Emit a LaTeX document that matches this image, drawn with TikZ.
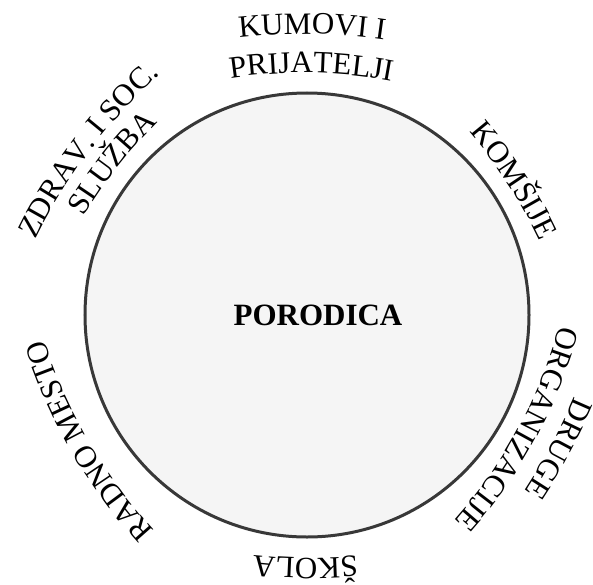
\documentclass[tikz,border=0pt]{standalone}
\usepackage{fontspec}
\setmainfont{Liberation Serif}
\usetikzlibrary{calc,decorations.text}

\newcommand{\ringfont}{\fontsize{31}{31}\selectfont}

\tikzset{
    hub/.style={circle, draw=black!78, line width=3pt, fill=black!4, minimum size=444pt, inner sep=0pt},
    ringtext/.style={decorate, decoration={text along path, text align=center}},
}

% label on a flat arc outside the hub: angle, baseline radius, text
\newcommand{\ringlabel}[3]{%
    \pgfmathsetmacro\bigrad{2*#2}
    \path[ringtext, decoration={text={|\ringfont|#3}}]
        ($(porodica.center)+(#1+180:#2pt)+(#1+40:\bigrad pt)$)
        arc[start angle=#1+40, end angle=#1-40, radius=\bigrad pt];
}

\begin{document}
\begin{tikzpicture}
\useasboundingbox (-307pt,315pt) rectangle (286pt,-269pt);
% hub
\node[hub] (porodica) at (0,0) {};
\node[font=\ringfont\bfseries] (porodicatxt) at ([xshift=11pt]porodica.center) {PORODICA};
% labels round the hub
\ringlabel{89}{281}{KUMOVI I}
\ringlabel{89}{242}{PRIJATELJI}
\ringlabel{33}{240}{KOMŠIJE}
\ringlabel{-28}{277}{DRUGE}
\ringlabel{-28.4}{240}{ORGANIZACIJE}
\ringlabel{-90.4}{243}{ŠKOLA}
\ringlabel{210}{252}{RADNO MESTO}
\ringlabel{143}{272}{ZDRAV. I SOC.}
\ringlabel{142}{240}{SLUŽBA}
\end{tikzpicture}
\end{document}
